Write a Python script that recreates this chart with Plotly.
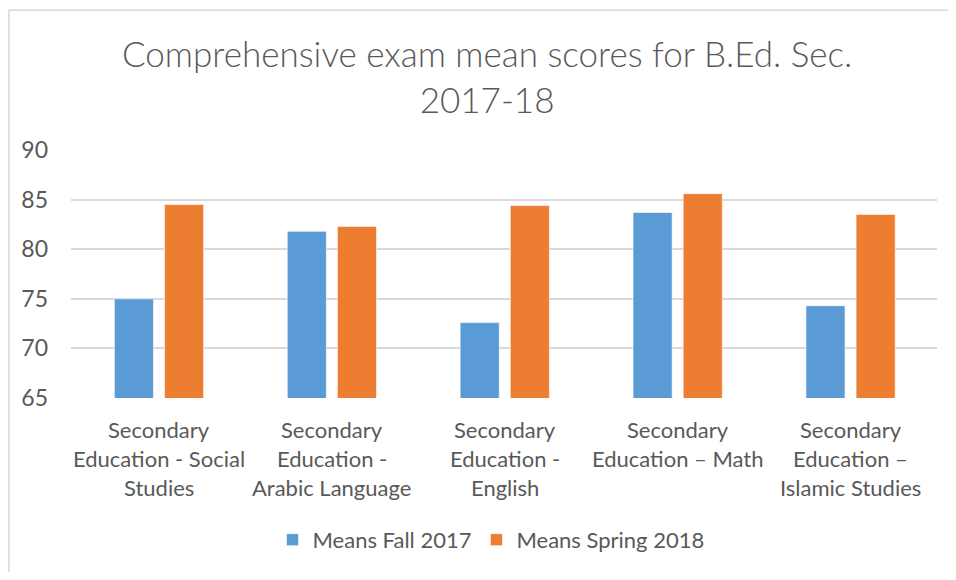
import plotly.graph_objects as go

categories = [
    "Secondary Education - Social Studies",
    "Secondary Education - Arabic Language",
    "Secondary Education - English",
    "Secondary Education \u2013 Math",
    "Secondary Education \u2013 Islamic Studies",
]
label_lines = [
    ["Secondary", "Education - Social", "Studies"],
    ["Secondary", "Education -", "Arabic Language"],
    ["Secondary", "Education -", "English"],
    ["Secondary", "Education \u2013 Math", ""],
    ["Secondary", "Education \u2013", "Islamic Studies"],
]
fall_2017 = [75.0, 81.8, 72.6, 83.7, 74.3]
spring_2018 = [84.5, 82.3, 84.4, 85.6, 83.5]
y_ticks = [65, 70, 75, 80, 85, 90]

FONT = "Lato"
GRAY = "#595959"

OFF = 8  # page body margin
W, H = 956 - 2 * OFF, 580 - 2 * OFF
# plot area in page pixel coordinates
L, R, T, B = 71, 937, 150, 400

fig = go.Figure()
fig.add_trace(go.Bar(x=categories, y=fall_2017, name="Means Fall 2017",
                     marker=dict(color="#5B9BD5", line=dict(color="#ffffff", width=0.6))))
fig.add_trace(go.Bar(x=categories, y=spring_2018, name="Means Spring 2018",
                     marker=dict(color="#ED7D31", line=dict(color="#ffffff", width=0.6))))

def px(x):
    return (x - L) / (R - L)

def py(y):
    return (B - y) / (B - T)

annotations = [dict(text="Comprehensive exam mean scores for B.Ed. Sec.<br>2017-18",
                    x=px(487), y=py(75), xref="paper", yref="paper",
                    xanchor="center", yanchor="middle", showarrow=False,
                    font=dict(family=FONT, size=35, color=GRAY, weight=300),
                    align="center")]
line_y = [432, 461, 490]
for cat, lines in zip(categories, label_lines):
    for ln, yy in zip(lines, line_y):
        if ln:
            annotations.append(dict(text=ln, x=cat, y=py(yy), xref="x", yref="paper",
                                    xanchor="center", yanchor="middle", showarrow=False,
                                    font=dict(family=FONT, size=22, color=GRAY)))

shapes = [dict(type="path", xref="paper", yref="paper",
               path=f"M {px(9)} {py(590)} L {px(9)} {py(9)} L {px(960)} {py(9)}",
               line=dict(color="#d9d9d9", width=1.5))]

fig.update_layout(
    width=W, height=H,
    margin=dict(l=L - OFF, r=(OFF + W) - R, t=T - OFF, b=(OFF + H) - B),
    paper_bgcolor="white", plot_bgcolor="white",
    barmode="group", bargap=0.42, bargroupgap=0.22,
    font=dict(family=FONT, size=22, color=GRAY),
    showlegend=True,
    legend=dict(orientation="h", x=px(491), y=py(543), xanchor="center", yanchor="middle",
                font=dict(family=FONT, size=22, color=GRAY), itemwidth=30,
                traceorder="normal"),
    annotations=annotations,
    shapes=shapes,
)
fig.update_xaxes(showticklabels=False, showgrid=False, zeroline=False, showline=False, ticks="")
fig.update_yaxes(range=[65, 90], tickvals=y_ticks, showgrid=True, gridcolor="#d9d9d9",
                 gridwidth=1.5, zeroline=False, showline=False, ticks="",
                 tickfont=dict(family=FONT, size=23, color=GRAY), ticklabelstandoff=22)

fig.write_html("out.html")
